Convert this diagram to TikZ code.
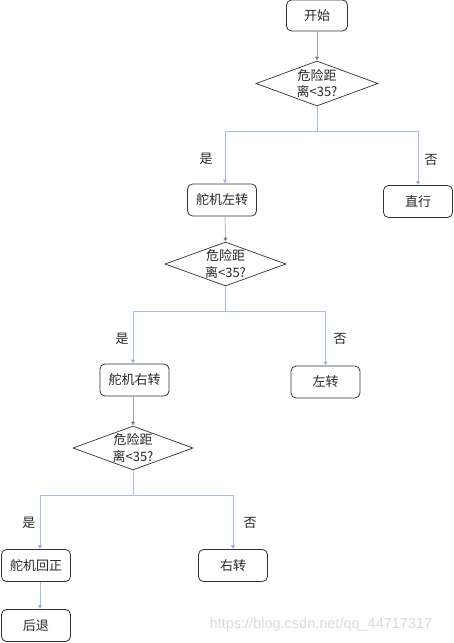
\documentclass[tikz,border=0pt]{standalone}
\usepackage{fontspec}
\setmainfont{Liberation Sans}
\newfontfamily\cjk{Noto Sans CJK SC}
\usetikzlibrary{shapes.geometric,arrows.meta}
\definecolor{linkblue}{HTML}{A9BDE4}
\definecolor{tipblue}{HTML}{4C7BD2}
\definecolor{boxline}{HTML}{333333}
\definecolor{wm}{HTML}{DADADA}
\tikzset{
  x=1pt,y=-1pt,
  stepbox/.style={draw=boxline,line width=0.8pt,rounded corners=5pt,minimum width=69pt,minimum height=32pt,inner sep=0pt,font=\cjk\fontsize{13}{16}\selectfont,text=black!85},
  dia/.style={draw=boxline,line width=0.7pt,shape=diamond,aspect=2.7,minimum width=122pt,minimum height=45pt,inner sep=0pt},
  diatext/.style={align=center,font=\cjk\fontsize{13}{16.5}\selectfont,text=black!85,inner sep=0pt},
  blk/.style={draw=gray!70,line width=0.7pt,-{Triangle[length=4pt,width=4pt,fill=black]}},
  blu/.style={draw=linkblue,line width=0.8pt,-{Triangle[length=4pt,width=4pt,fill=tipblue]}},
  lab/.style={font=\cjk\fontsize{13}{16}\selectfont,text=black!85,inner sep=0pt}
}
\begin{document}
\begin{tikzpicture}
\useasboundingbox (0,0) rectangle (453,643);
% nodes
\node[stepbox,minimum width=61pt,minimum height=31pt] (start) at (317,15.5) {开始};
\node[dia] (d1) at (317,83.5) {};
\node[diatext] (t1) at (d1.center) {危险距\\离<35?};
\node[stepbox] (b1) at (222,200) {舵机左转};
\node[stepbox] (b2) at (418,201.5) {直行};
\node[dia,minimum width=121pt,minimum height=44pt] (d2) at (225.5,264) {};
\node[diatext] (t2) at (d2.center) {危险距\\离<35?};
\node[stepbox] (b3) at (134.5,380) {舵机右转};
\node[stepbox] (b4) at (325.5,382) {左转};
\node[dia,minimum width=120pt,minimum height=44pt] (d3) at (133,448) {};
\node[diatext] (t3) at (d3.center) {危险距\\离<35?};
\node[stepbox] (b5) at (36,565.5) {舵机回正};
\node[stepbox] (b6) at (233,565.5) {右转};
\node[stepbox] (b7) at (36,625.5) {后退};
% labels
\node[lab] (y1) at (206,159) {是};
\node[lab] (n1) at (431,160) {否};
\node[lab] (y2) at (122,339) {是};
\node[lab] (n2) at (340,339) {否};
\node[lab] (y3) at (29,523) {是};
\node[lab] (n3) at (250,523) {否};
% connectors
\draw[blk] (start) -- (d1);
\draw[blu] (d1.south) -- ++(0,25) -| ([xshift=3pt]b1.north);
\draw[blu] (d1.south) -- ++(0,25) -| (b2.north);
\draw[blk] ([xshift=3pt]b1.south) -- (d2.north);
\draw[blu] (d2.south) -- ++(0,25) -| ([xshift=-1.5pt]b3.north);
\draw[blu] (d2.south) -- ++(0,25) -| (b4.north);
\draw[blk] ([xshift=-1.5pt]b3.south) -- (d3.north);
\draw[blu] (d3.south) -- ++(0,25) -| ([xshift=4pt]b5.north);
\draw[blu] (d3.south) -- ++(0,25) -| (b6.north);
\draw[blu] ([xshift=4pt]b5.south) -- ([xshift=4pt]b7.north);
% watermark
\node[text=wm,font=\fontsize{14.5}{16}\selectfont,inner sep=0pt] (wmark) at (321,625) {https://blog.csdn.net/qq\_44717317};
\end{tikzpicture}
\end{document}
